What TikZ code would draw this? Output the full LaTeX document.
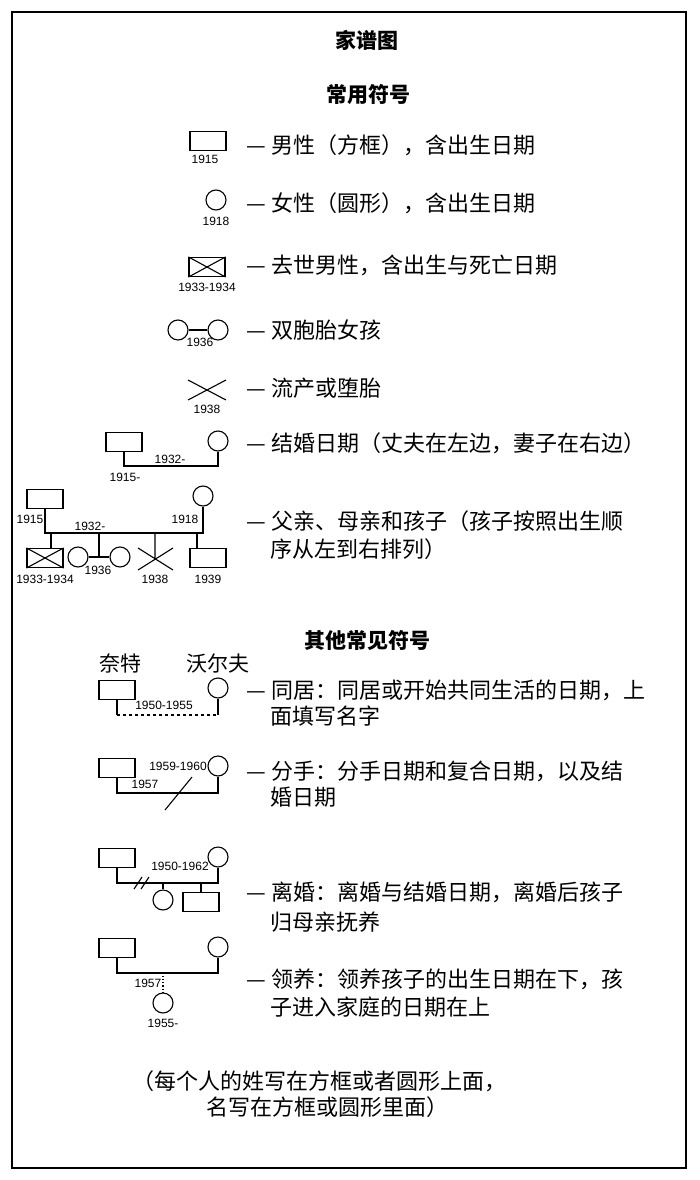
\documentclass[tikz,border=0pt]{standalone}
\usepackage{fontspec}
\setmainfont{Noto Sans CJK SC}
\newfontfamily\numfont{Liberation Sans}
\usetikzlibrary{positioning}
\begin{document}
\begin{tikzpicture}[x=1pt,y=-1pt,
	line width=1.1pt,
	male/.style={draw,rectangle,minimum width=36pt,minimum height=19pt,inner sep=0pt},
	female/.style={draw,circle,minimum size=20pt,inner sep=0pt},
	yr/.style={font=\numfont\fontsize{12}{13}\selectfont,inner sep=1pt},
	txt/.style={anchor=west,font=\fontsize{22}{26}\selectfont,inner sep=0pt},
	head/.style={font=\bfseries\fontsize{21}{25}\selectfont},
	surname/.style={font=\fontsize{21}{25}\selectfont}
	]
	\useasboundingbox (0,0) rectangle (699,1180);
	\draw[line width=2pt] (12,12) rectangle (686,1168);
	\node[head] (title) at (367,40) {家谱图};
	\node[head] (common) at (368,95) {常用符号};
	% male
	\node[male] (m1) at (208,141) {};
	\node[yr] at (205,159) {1915};
	\node[txt] at (246,145) {— 男性（方框），含出生日期};
	% female
	\node[female] (f1) at (216,200) {};
	\node[yr] at (216,221) {1918};
	\node[txt] at (246,203) {— 女性（圆形），含出生日期};
	% deceased male
	\node[male] (d1) at (207,267) {};
	\draw (d1.north west) -- (d1.south east) (d1.north east) -- (d1.south west);
	\node[yr] at (207,287) {1933-1934};
	\node[txt] at (246,265) {— 去世男性，含出生与死亡日期};
	% twins
	\node[female] (t1) at (178,330) {};
	\node[female] (t2) at (218,330) {};
	\draw (t1) -- (t2);
	\node[yr] at (200,342) {1936};
	\node[txt] at (246,330) {— 双胞胎女孩};
	% miscarriage
	\coordinate (x1) at (188,380); \coordinate (x2) at (226,400);
	\coordinate (x3) at (226,380); \coordinate (x4) at (188,400);
	\draw (x1) -- (x2) (x3) -- (x4);
	\node[yr] at (207,409) {1938};
	\node[txt] at (246,388) {— 流产或堕胎};
	% marriage
	\node[male] (h1) at (124,442) {};
	\node[female] (w1) at (218,441) {};
	\draw (h1.south) |- (218,466) -- (w1.south);
	\node[yr] at (170,459) {1932-};
	\node[yr] at (125,477) {1915-};
	\node[txt] at (246,443) {— 结婚日期（丈夫在左边，妻子在右边）};
	% family
	\node[male] (h2) at (45,499) {};
	\node[yr] at (30,519) {1915};
	\node[female] (w2) at (203,496) {};
	\node[yr] at (185,519) {1918};
	\draw (h2.south) |- (203,533) -- (w2.south);
	\node[yr] at (90,526) {1932-};
	\node[male] (c1) at (45,558) {};
	\draw (c1.north west) -- (c1.south east) (c1.north east) -- (c1.south west);
	\draw (51,533) -- (51,548);
	\node[yr] at (45,579) {1933-1934};
	\node[female] (c2) at (78,557) {};
	\node[female] (c3) at (120,557) {};
	\draw (c2) -- (c3) (99,533) -- (99,557);
	\node[yr] at (98,570) {1936};
	\draw (138,548) -- (173,570) (173,548) -- (138,570) (155,533) -- (155,559);
	\node[yr] at (155,579) {1938};
	\node[male] (c4) at (208,558) {};
	\draw (197,533) -- (197,548);
	\node[yr] at (208,579) {1939};
	\node[txt] at (246,521) {— 父亲、母亲和孩子（孩子按照出生顺};
	\node[txt] at (270,549) {序从左到右排列）};
	% other symbols
	\node[head] (other) at (367,640) {其他常见符号};
	\node[surname] at (120,664) {奈特};
	\node[surname] at (218,664) {沃尔夫};
	\node[male] (h3) at (117,690) {};
	\node[female] (w3) at (218,688) {};
	\draw (h3.south) -- (117,715);
	\draw[dashed] (117,715) -- (218,715);
	\draw (218,715) -- (w3.south);
	\node[yr] at (164,705) {1950-1955};
	\node[txt] at (246,690) {— 同居：同居或开始共同生活的日期，上};
	\node[txt] at (270,716) {面填写名字};
	% separation
	\node[male] (h4) at (117,768) {};
	\node[female] (w4) at (218,766) {};
	\draw (h4.south) |- (218,793) -- (w4.south);
	\draw (165,810) -- (192,777);
	\node[yr] at (145,784) {1957};
	\node[yr] at (178,766) {1959-1960};
	\node[txt] at (246,771) {— 分手：分手日期和复合日期，以及结};
	\node[txt] at (270,797) {婚日期};
	% divorce
	\node[male] (h5) at (117,858) {};
	\node[female] (w5) at (218,857) {};
	\draw (h5.south) |- (218,883) -- (w5.south);
	\draw (134,889) -- (142,877) (141,889) -- (149,877);
	\node[yr] at (180,866) {1950-1962};
	\node[female] (c5) at (163,900) {};
	\draw (163,883) -- (c5.north);
	\node[male] (c6) at (201,902) {};
	\draw (201,883) -- (c6.north);
	\node[txt] at (246,892) {— 离婚：离婚与结婚日期，离婚后孩子};
	\node[txt] at (270,922) {归母亲抚养};
	% adoption
	\node[male] (h6) at (117,948) {};
	\node[female] (w6) at (218,947) {};
	\draw (h6.south) |- (218,973) -- (w6.south);
	\node[female] (c7) at (163,1003) {};
	\draw[dotted] (163,973) -- (c7.north);
	\node[yr] at (148,983) {1957};
	\node[yr] at (163,1023) {1955-};
	\node[txt] at (246,979) {— 领养：领养孩子的出生日期在下，孩};
	\node[txt] at (270,1007) {子进入家庭的日期在上};
	% footer
	\node[txt] at (132,1081) {（每个人的姓写在方框或者圆形上面，};
	\node[txt] at (206,1107) {名写在方框或圆形里面）};
\end{tikzpicture}
\end{document}
